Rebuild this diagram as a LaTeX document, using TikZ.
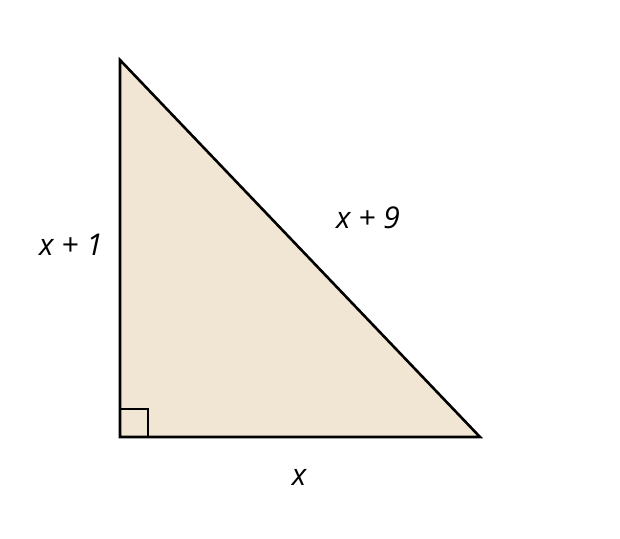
\documentclass[tikz,border=0pt]{standalone}
\usepackage{fontspec}
\setmainfont{Open Sans}
\usetikzlibrary{positioning}
\definecolor{sand}{HTML}{F0E6D3}
\tikzset{sidelabel/.style={font=\itshape\fontsize{30}{34}\selectfont, inner sep=0pt}}

\begin{document}
\begin{tikzpicture}[x=1pt, y=-1pt]
		
		% Frame
		\useasboundingbox (0,0) rectangle (620,538);
		
		% Corners
		\coordinate (top) at (120,60);
		\coordinate (corner) at (120,437);
		\coordinate (right) at (480,437);
		
		% Triangle
		\filldraw[fill=sand, draw=black, line width=2.6pt, line join=miter] (top) -- (corner) -- (right) -- cycle;
		
		% Right angle mark
		\draw[line width=1.8pt] (corner) ++(0,-28) -- ++(28,0) -- ++(0,28);
		
		% Labels
		\node[sidelabel] (left) at (71,245) {x + 1};
		\node[sidelabel] (hyp) at (368,218) {x + 9};
		\node[sidelabel] (base) at (299,477) {x};
		
	\end{tikzpicture}
\end{document}
